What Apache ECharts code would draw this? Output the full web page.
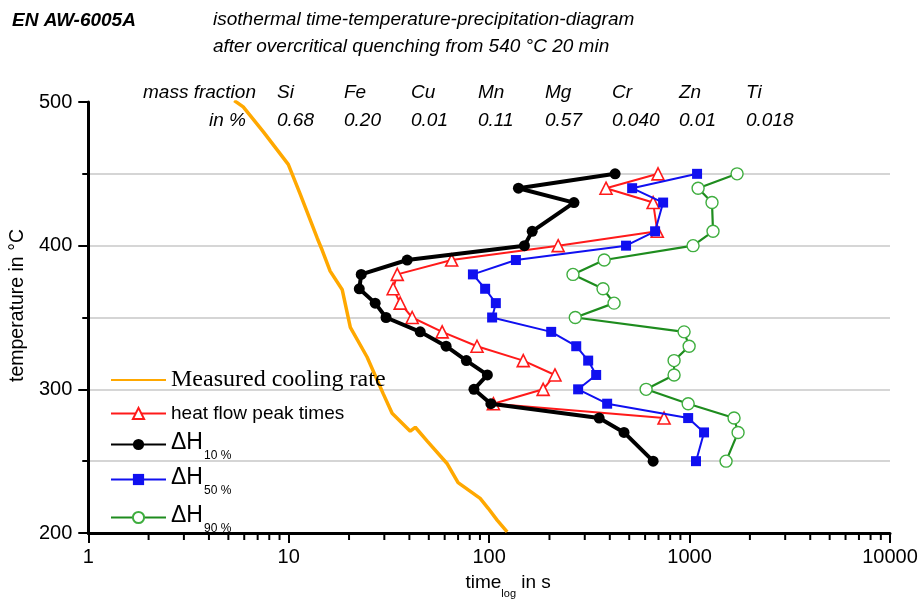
<!DOCTYPE html>
<html>
<head>
<meta charset="utf-8">
<script src="https://cdn.jsdelivr.net/npm/echarts@6/dist/echarts.min.js"></script>
<style>
  html, body { margin: 0; padding: 0; background: #fff; }
  #chart { width: 921px; height: 604px; }
</style>
</head>
<body>
<div id="chart"></div>
<script>
// Isothermal holding temperatures (°C) per measured curve
const tempsDH = [450, 440, 430, 410, 400, 390, 380, 370, 360, 350, 340, 330, 320, 310, 300, 290, 280, 270, 250];
const tempsPeak = [450, 440, 430, 410, 400, 390, 380, 370, 360, 350, 340, 330, 320, 310, 300, 290, 280];

// Times in s
const timesPeak = [696, 383, 658, 690, 221, 65, 34.8, 33.2, 36, 41.3, 58.3, 87, 148, 213, 186, 105, 746];
const timesDH10 = [425, 140, 265, 164, 150, 39, 23, 22.5, 27, 30.6, 45.3, 61, 77, 98, 84, 102, 354, 471, 658];
const timesDH50 = [1090, 517, 738, 673, 482, 136, 83, 95.5, 108, 103.5, 204, 272, 312, 342, 278, 388, 984, 1181, 1077];
const timesDH90 = [1726, 1103, 1294, 1309, 1041, 375, 262, 370, 420, 269, 939, 995, 837, 837, 607, 984, 1667, 1746, 1521];

// Measured cooling curve
const coolTimes = [5.35, 5.93, 7.46, 9.95, 11.4, 13.9, 14.7, 16.1, 18.5, 20.3, 24.6, 29.6, 32.8, 40.4, 42.8, 49.1, 61.8, 70, 90.2, 98.9, 109.6, 123];
const coolTemps = [501, 496.6, 479.4, 456.6, 436, 405, 396.8, 382.3, 369.3, 343.1, 322.5, 297, 283.3, 270.9, 273.6, 264, 248.2, 235.1, 224.1, 217.2, 209, 200.7];

// Alloy composition
const elements = ['Si', 'Fe', 'Cu', 'Mn', 'Mg', 'Cr', 'Zn', 'Ti'];
const fractions = ['0.68', '0.20', '0.01', '0.11', '0.57', '0.040', '0.01', '0.018'];

// Legend entries in display order
const legendNames = ['Measured cooling rate', 'heat flow peak times', 'ΔH10 %', 'ΔH50 %', 'ΔH90 %'];

// Minor ticks of the time axis: 2..9 within each decade
const timeMinorTicks = [];
[1, 10, 100, 1000].forEach(d => { for (let m = 2; m <= 9; m++) timeMinorTicks.push(m * d); });

const SANS = '"Liberation Sans", Arial, sans-serif';
const SERIF = '"Liberation Serif", "Times New Roman", serif';

const pairs = (xs, ys) => xs.map((x, i) => [x, ys[i]]);

const chart = echarts.init(document.getElementById('chart'), null, { renderer: 'canvas' });

const headerTexts = [
  { type: 'text', x: 12, y: 21, style: { text: 'EN AW-6005A', font: 'italic bold 19px ' + SANS, fill: '#000', verticalAlign: 'middle' } },
  { type: 'text', x: 213, y: 20, style: { text: 'isothermal time-temperature-precipitation-diagram', font: 'italic 19px ' + SANS, fill: '#000', verticalAlign: 'middle' } },
  { type: 'text', x: 213, y: 47, style: { text: 'after overcritical quenching from 540 °C 20 min', font: 'italic 19px ' + SANS, fill: '#000', verticalAlign: 'middle' } },
  { type: 'text', x: 143, y: 93, style: { text: 'mass fraction', font: 'italic 19px ' + SANS, fill: '#000', verticalAlign: 'middle' } },
  { type: 'text', x: 246, y: 121, style: { text: 'in %', font: 'italic 19px ' + SANS, fill: '#000', verticalAlign: 'middle', align: 'right' } }
];
elements.forEach((el, i) => {
  const x = 277 + i * 67;
  headerTexts.push({ type: 'text', x: x, y: 93, style: { text: el, font: 'italic 19px ' + SANS, fill: '#000', verticalAlign: 'middle' } });
  headerTexts.push({ type: 'text', x: x, y: 121, style: { text: fractions[i], font: 'italic 19px ' + SANS, fill: '#000', verticalAlign: 'middle' } });
});

// One legend box per entry so each row sits at its own height
const legendTops = [368, 404, 431, 466, 504];
const legendBase = {
  orient: 'vertical',
  left: 110,
  padding: 0,
  itemWidth: 55,
  itemHeight: 14,
  formatter: function (name) {
    if (name === 'Measured cooling rate') return '{serif|' + name + '}';
    if (name.indexOf('ΔH') === 0) return '{d|ΔH}{s|' + name.slice(2) + '}';
    return '{sans|' + name + '}';
  },
  textStyle: {
    color: '#000',
    rich: {
      serif: { fontFamily: SERIF, fontSize: 24, lineHeight: 34 },
      sans: { fontFamily: SANS, fontSize: 19, lineHeight: 30 },
      d: { fontFamily: SANS, fontSize: 23, lineHeight: 27, verticalAlign: 'top' },
      s: { fontFamily: SANS, fontSize: 12, lineHeight: 14, verticalAlign: 'top', padding: [19, 0, 0, 1] }
    }
  }
};
const legends = legendNames.map((name, i) => Object.assign({}, legendBase, {
  top: legendTops[i],
  data: [i === 0 ? { name: name, itemStyle: { opacity: 0 } } : name]
}));

const option = {
  backgroundColor: '#fff',
  animation: false,
  grid: { left: 88, right: 31, top: 102, bottom: 66 },
  graphic: headerTexts.map(t => Object.assign({ z: -1 }, t)),
  legend: legends,
  xAxis: {
    type: 'log',
    logBase: 10,
    min: 1,
    max: 10000,
    name: '{a|time}{sub|log}{a| in s}',
    nameLocation: 'middle',
    nameGap: 40,
    nameTextStyle: {
      padding: [0, 0, 0, 38],
      rich: {
        a: { fontFamily: SANS, fontSize: 19, color: '#000', verticalAlign: 'top', lineHeight: 22 },
        sub: { fontFamily: SANS, fontSize: 11, color: '#000', verticalAlign: 'top', padding: [15, 0, 0, 0] }
      }
    },
    axisLine: { show: true, onZero: false, lineStyle: { color: '#000', width: 3 } },
    axisTick: { show: true, inside: false, length: 10, lineStyle: { color: '#000', width: 2 } },
    axisLabel: {
      color: '#000', fontFamily: SANS, fontSize: 20, margin: 14,
      formatter: v => String(v)
    },
    splitLine: { show: false }
  },
  yAxis: {
    type: 'value',
    min: 200,
    max: 500,
    interval: 100,
    name: 'temperature in °C',
    nameLocation: 'middle',
    nameGap: 60,
    nameTextStyle: { color: '#000', fontFamily: SANS, fontSize: 19.5, padding: [0, 0, 0, 24] },
    axisLine: { show: true, lineStyle: { color: '#000', width: 3 } },
    axisTick: { show: true, inside: false, length: 10, lineStyle: { color: '#000', width: 2 } },
    minorTick: { show: true, splitNumber: 2, length: 6, lineStyle: { color: '#000', width: 2 } },
    axisLabel: { color: '#000', fontFamily: SANS, fontSize: 20, margin: 16 },
    splitLine: { show: true, showMinLine: false, showMaxLine: false, lineStyle: { color: '#c8c8c8', width: 1.5 } },
    minorSplitLine: { show: true, lineStyle: { color: '#c8c8c8', width: 1.5 } }
  },
  series: [
    {
      name: 'Measured cooling rate',
      type: 'line',
      data: pairs(coolTimes, coolTemps),
      showSymbol: false,
      symbol: 'none',
      lineStyle: { color: '#FFA800', width: 3.5 },
      itemStyle: { color: '#FFA800' },
      z: 2
    },
    {
      name: 'heat flow peak times',
      type: 'line',
      data: pairs(timesPeak, tempsPeak),
      symbol: 'triangle',
      symbolSize: 12,
      lineStyle: { color: '#FF1A1A', width: 2 },
      itemStyle: { color: '#fff', borderColor: '#FF1A1A', borderWidth: 1.6 },
      z: 3
    },
    {
      name: 'ΔH10 %',
      type: 'line',
      data: pairs(timesDH10, tempsDH),
      symbol: 'circle',
      symbolSize: 11,
      lineStyle: { color: '#000', width: 4 },
      itemStyle: { color: '#000' },
      z: 4
    },
    {
      name: 'ΔH50 %',
      type: 'line',
      data: pairs(timesDH50, tempsDH),
      symbol: 'rect',
      symbolSize: 10,
      lineStyle: { color: '#1010F0', width: 2 },
      itemStyle: { color: '#1010F0' },
      z: 5
    },
    {
      name: 'ΔH90 %',
      type: 'line',
      data: pairs(timesDH90, tempsDH),
      symbol: 'circle',
      symbolSize: 12,
      lineStyle: { color: '#1E8C1E', width: 2.2 },
      itemStyle: { color: '#fff', borderColor: '#3FAE3F', borderWidth: 1.4 },
      z: 6
    },
    {
      name: 'timeMinorTicks',
      type: 'custom',
      silent: true,
      clip: false,
      data: timeMinorTicks.map(v => [v, 200]),
      renderItem: function (params, api) {
        const p = api.coord([api.value(0), api.value(1)]);
        return {
          type: 'line',
          shape: { x1: p[0], y1: p[1], x2: p[0], y2: p[1] + 7 },
          style: { stroke: '#000', lineWidth: 2 }
        };
      },
      z: 1
    }
  ]
};

chart.setOption(option);
</script>
</body>
</html>
